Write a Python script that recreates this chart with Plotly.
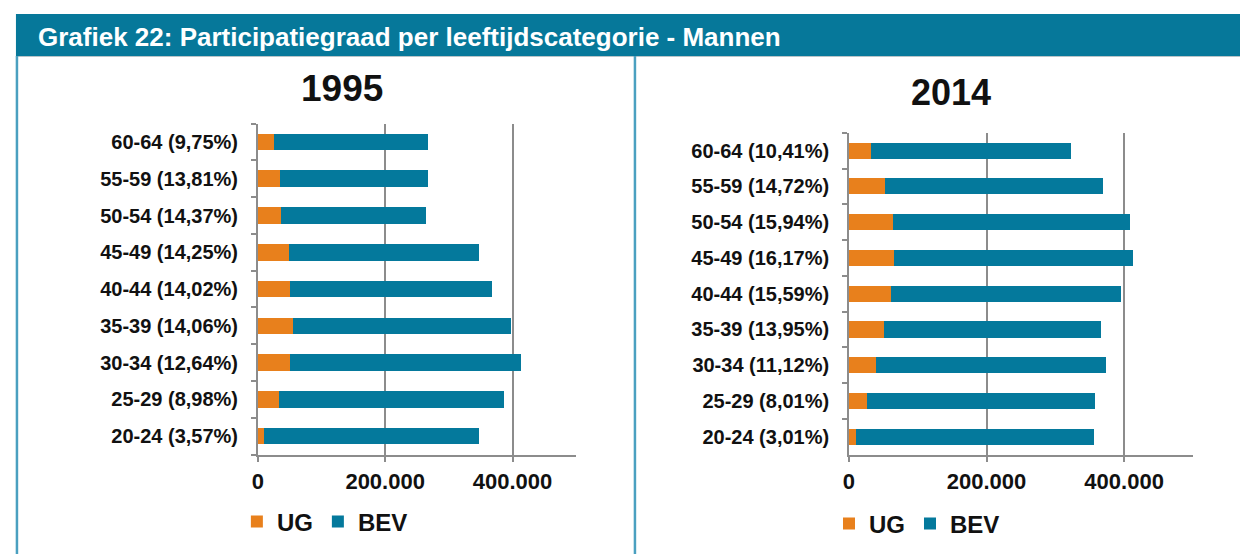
import plotly.graph_objects as go

W, H = 1240, 554

categories = ["20-24", "25-29", "30-34", "35-39", "40-44", "45-49", "50-54", "55-59", "60-64"]

pct_1995 = ["3,57", "8,98", "12,64", "14,06", "14,02", "14,25", "14,37", "13,81", "9,75"]
ug_1995 = [10400, 33300, 51000, 54700, 50000, 48400, 37000, 35400, 25000]
bev_1995 = [337600, 352700, 363000, 342300, 317000, 298600, 227000, 232600, 242000]

pct_2014 = ["3,01", "8,01", "11,12", "13,95", "15,59", "16,17", "15,94", "14,72", "10,41"]
ug_2014 = [9700, 27000, 40000, 50600, 61300, 66100, 64200, 53000, 32800]
bev_2014 = [347000, 330200, 333100, 316300, 334500, 347000, 344600, 315700, 290200]

panel_titles = ["1995", "2014"]
series_names = ["UG", "BEV"]
tick_values = [0, 200000, 400000]

ORANGE = "#E8801C"
TEAL = "#04799C"
HEADER = "#06789A"
GRID = "#8C8C8C"
FONT = "Liberation Sans, Arial, sans-serif"

labels_1995 = [f"{c} ({p}%)" for c, p in zip(categories, pct_1995)]
labels_2014 = [f"{c} ({p}%)" for c, p in zip(categories, pct_2014)]

def px_x(x):
    return x / W

def px_y(y):
    return 1 - y / H

fig = go.Figure()

panels = [
    dict(labels=labels_1995, ug=ug_1995, bev=bev_1995, xa="x", ya="y", leg="legend"),
    dict(labels=labels_2014, ug=ug_2014, bev=bev_2014, xa="x2", ya="y2", leg="legend2"),
]
for p in panels:
    fig.add_trace(go.Bar(y=p["labels"], x=p["ug"], orientation="h", name=series_names[0],
                         marker=dict(color=ORANGE, line=dict(width=0)), width=0.45,
                         xaxis=p["xa"], yaxis=p["ya"], legend=p["leg"]))
    fig.add_trace(go.Bar(y=p["labels"], x=p["bev"], orientation="h", name=series_names[1],
                         marker=dict(color=TEAL, line=dict(width=0)), width=0.45,
                         xaxis=p["xa"], yaxis=p["ya"], legend=p["leg"]))

xcommon = dict(range=[0, 500000], tickvals=tick_values, tickformat=",d",
               showgrid=True, gridcolor=GRID, gridwidth=1.5, zeroline=False,
               showline=True, linecolor=GRID, linewidth=1.5,
               ticks="outside", ticklen=6, tickcolor=GRID, tickwidth=1.5,
               tickfont=dict(family=FONT, size=22, color="#111111", weight="bold"),
               fixedrange=True)
ycommon = dict(type="category", showline=True, linecolor=GRID, linewidth=1.5,
               ticks="outside", tickson="boundaries", ticklen=5, tickcolor=GRID, tickwidth=1.5,
               showgrid=False, ticklabelstandoff=14,
               tickfont=dict(family=FONT, size=20, color="#111111", weight="bold"),
               fixedrange=True)

legend_font = dict(family=FONT, size=24, color="#111111", weight="bold")

fig.update_layout(
    width=W, height=H,
    margin=dict(l=0, r=0, t=0, b=0),
    paper_bgcolor="white", plot_bgcolor="white",
    barmode="stack", separators=",.",
    showlegend=True,
    xaxis=dict(domain=[px_x(253), px_x(573)], anchor="y", **xcommon),
    yaxis=dict(domain=[px_y(454.5), px_y(123.6)], anchor="x", categoryarray=labels_1995, categoryorder="array", **ycommon),
    xaxis2=dict(domain=[px_x(847), px_x(1192.7)], anchor="y2", **xcommon),
    yaxis2=dict(domain=[px_y(454.6), px_y(132.8)], anchor="x2", categoryarray=labels_2014, categoryorder="array", **ycommon),
    legend=dict(orientation="h", x=px_x(232), y=px_y(522), xanchor="left", yanchor="middle",
                font=legend_font, itemwidth=30, bgcolor="rgba(0,0,0,0)", traceorder="normal"),
    legend2=dict(orientation="h", x=px_x(827), y=px_y(524), xanchor="left", yanchor="middle",
                 font=legend_font, itemwidth=30, bgcolor="rgba(0,0,0,0)", traceorder="normal"),
)

# header bar and frame
fig.add_shape(type="rect", xref="paper", yref="paper", x0=px_x(10), x1=1, y0=px_y(56), y1=px_y(14),
              fillcolor=HEADER, line=dict(width=0), layer="below")
fig.add_shape(type="line", xref="paper", yref="paper", x0=px_x(10), x1=1, y0=px_y(56.5), y1=px_y(56.5),
              line=dict(color="#B8C4C8", width=1))
fig.add_shape(type="line", xref="paper", yref="paper", x0=px_x(11), x1=px_x(11), y0=0, y1=px_y(56),
              line=dict(color="#4AA0C0", width=2.5))
fig.add_shape(type="line", xref="paper", yref="paper", x0=px_x(632), x1=px_x(632), y0=0, y1=px_y(56),
              line=dict(color="#4AA0C0", width=2.5))

fig.add_annotation(text="Grafiek 22: Participatiegraad per leeftijdscategorie - Mannen",
                   xref="paper", yref="paper", x=px_x(30), y=px_y(37), xanchor="left", yanchor="middle",
                   showarrow=False, font=dict(family=FONT, size=26, color="white", weight="bold"))
fig.add_annotation(text=panel_titles[0], xref="paper", yref="paper", x=px_x(338), y=px_y(88),
                   xanchor="center", yanchor="middle", showarrow=False,
                   font=dict(family=FONT, size=37, color="#111111", weight="bold"))
fig.add_annotation(text=panel_titles[1], xref="paper", yref="paper", x=px_x(950), y=px_y(93),
                   xanchor="center", yanchor="middle", showarrow=False,
                   font=dict(family=FONT, size=36, color="#111111", weight="bold"))

fig.write_html("out.html", config={"displayModeBar": False, "staticPlot": False},
               post_script="document.body.style.margin='0';document.body.style.overflow='hidden';")
